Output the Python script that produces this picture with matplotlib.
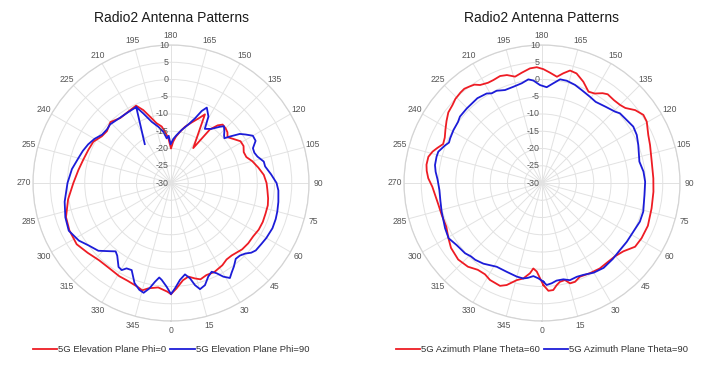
import numpy as np
import matplotlib.pyplot as plt
import matplotlib.transforms as mtransforms

plt.rcParams['font.family'] = ['Liberation Sans', 'DejaVu Sans']

# angles in degrees (0 at bottom, counter-clockwise), gain in dB
r_ticks = [-30, -25, -20, -15, -10, -5, 0, 5, 10]
theta_ticks = list(range(0, 360, 15))

# --- elevation plane, Phi=0 (red)
elev_phi0_ang = [0, 3, 7, 10.5, 14, 17, 21, 26, 32, 36, 40, 44, 47, 52, 57, 62, 67, 72,
                 77, 81, 86, 90, 95, 100, 105, 109, 113, 117, 121, 125, 129, 132, 135,
                 138.5, 141, 144, 147.5, 153.7, 157, 161, 166, 170, 174, 177, 180,
                 183.4, 186.7, 189.4, 193.5, 197.6, 200.8, 204.3, 211, 218, 224.8, 231,
                 236, 242, 248, 255, 262, 270, 279, 288, 295, 303, 310, 317, 324, 331,
                 336, 342, 345, 348, 353, 358, 360]
elev_phi0_db = [2.2, 0.6, -1.6, -2.4, -1.5, -0.8, -1.4, -1.3, -1.9, -2.6, -2.6, -2.2, -1.8,
                -1.6, -1.6, -1.2, -1.1, -1.2, -1.2, -1.5, -2.0, -2.3, -3.0, -4.3, -5.6,
                -6.9, -7.1, -6.4, -6.5, -7.8, -8.9, -8.0, -7.6, -7.4, -8.5, -10.8, -18,
                -7.8, -9.7, -11.4, -13.2, -14.9, -16.5, -18, -20, -17, -15, -13.4, -12.2,
                -9.8, -7.4, -5.4, -5.9, -6.1, -5.1, -6.1, -5.8, -4.5, -4.2, -3.7, -2.9,
                -1.7, 0.2, 2.0, 2.5, 2.6, 1.5, 0.6, 0.5, 0.9, 1.0, 1.6, 2.2, 1.2, 0.5,
                1.5, 2.2]

# --- elevation plane, Phi=90 (blue); trace starts at the 205 deg lobe and ends in its null
elev_phi90_ang = [-155.4, -149, -142, -134, -130, -125, -120, -115, -110, -105, -98, -90,
                  -80, -72, -65, -58, -53, -47, -42, -39, -36.5, -32, -29.5, -27.5, -24.3,
                  -20, -16.5, -14, -11.6, -9.2, -7.1, -5.5, -2.4, 0, 2.2, 5.3, 8.7, 11.3,
                  13.2, 15.3, 18.4, 21.7, 24.6, 26.8, 29.2, 31.8, 34, 37, 40.5, 43.5, 46.5,
                  49, 51.5, 56, 60, 66, 71, 75, 80, 86, 90, 95, 100, 103, 107, 110, 113,
                  116.5, 120, 123, 125.5, 128, 130, 132, 134, 137, 139, 143.5, 148, 150.6,
                  154.6, 156.9, 159.6, 163.5, 168.6, 173.3, 177, 180.5, 182.8, 185.5,
                  188.5, 192.7, 197.5, 201.7, 204.6, 214]
elev_phi90_db = [-5.8, -6.0, -6.0, -5.5, -5.8, -5.6, -4.4, -3.5, -2.8, -2.2, -1.0, 0.0,
                 1.3, 2.2, 2.7, 1.5, 0.0, -1.2, -3.4, -4.5, -3.8, -1.3, -1.0, -2.1, -2.3,
                 0.9, 2.3, 2.8, 1.2, -1.0, -2.4, -1.8, 0.1, 2.2, 0.55, -1.8, -3.2, -1.8,
                 0.4, 1.9, 1.2, -0.8, -1.7, -0.7, 1.1, 2.4, 1.4, 0.3, -1.1, -1.0, -0.3,
                 0.8, 1.4, 1.6, 1.9, 2.2, 2.1, 1.9, 1.6, 1.2, 0.6, -0.9, -2.3, -2.4, -3.8,
                 -4.3, -4.2, -2.6, -2.6, -4.2, -5.5, -8.0, -9.8, -9.3, -8.5, -7.5, -8.4,
                 -10.5, -11.5, -7.9, -5.8, -7.3, -10.0, -12.3, -14.3, -16.0, -17.2,
                 -18.8, -16.3, -17.0, -15.0, -13.3, -11.4, -8.3, -5.8, -16.4]

# --- azimuth plane, Theta=60 (red)
azim_t60_ang = [0.8, 3.4, 6, 8.2, 10.3, 13.3, 15.6, 18.5, 22, 28, 34, 40, 45, 50, 55.6, 61,
                68, 77, 85.5, 92.4, 101, 109.4, 114.3, 120.4, 123.9, 128, 132, 135, 139,
                143.5, 146, 149.5, 153, 157.8, 162.5, 166, 169, 172, 176, 179.3, 182.6,
                186, 190.4, 194.2, 198, 201.4, 205.3, 208.3, 212.3, 214.5, 217, 219.5, 222,
                225.8, 229, 233, 237, 241, 245, 248.5, 251.5, 254, 257, 261, 264, 267.6,
                272, 281.5, 287.7, 294.6, 300.6, 305.5, 312.4, 318.5, 323.5, 328, 331.8,
                337.8, 340.9, 345.4, 348.9, 352.4, 354.2, 356.6, 358.8, 360.8]
azim_t60_db = [-0.4, 1.3, 1.2, -0.1, -0.9, -1.1, 0.2, 0.2, -0.7, -0.4, -0.1, -0.2, 0.0, 0.8,
               2.7, 3.0, 3.1, 2.6, 2.4, 2.3, 2.4, 3.2, 3.8, 5.2, 5.4, 4.3, 2.5, 2.0, 1.8,
               2.0, 1.4, 0.1, -0.3, 1.7, 3.3, 3.6, 2.4, 1.1, 2.1, 3.0, 3.6, 3.4, 2.5, 1.8,
               2.9, 3.3, 3.0, 3.0, 3.6, 4.6, 5.0, 5.4, 5.3, 5.0, 4.4, 4.0, 3.0, 2.0, 1.1,
               0.8, 2.0, 3.0, 3.8, 3.9, 3.6, 3.0, 1.8, 0.7, 0.5, 0.5, 1.5, 2.4, 2.9, 2.4,
               1.3, 1.2, 1.9, 2.2, 1.3, -0.9, -1.8, -3.6, -5.1, -4.3, -2.4, -0.4]

# --- azimuth plane, Theta=90 (blue)
azim_t90_ang = [0.8, 2.6, 5.5, 8.5, 12.5, 16, 20.3, 24.2, 30, 36, 43, 49.3, 55.3, 62, 68.5,
                74.2, 83.3, 90.7, 96.4, 102.4, 111.5, 116.9, 121.7, 127.9, 131.8, 134.3,
                140, 146.5, 150.9, 156.9, 161.4, 166.4, 170.1, 173.5, 177.2, 181.2, 184.8,
                187.5, 191.5, 196.6, 201.7, 206.2, 209.3, 211.7, 217.3, 225.3, 231, 234,
                239.1, 244.1, 246.5, 249, 253.2, 256, 260.5, 264, 268, 274, 280, 285.9,
                295, 300.6, 306, 312.4, 316, 319, 324, 331.6, 338.3, 344.9, 348.9, 351.5,
                354.7, 357.8, 360.8]
azim_t90_db = [-1.4, -0.4, -0.8, -1.4, -1.4, -0.7, -1.0, -0.8, 0.0, 0.4, 0.1, -0.2, -0.1,
               0.0, 0.5, 0.5, -0.1, -0.1, -0.4, -1.1, 0.0, 0.8, 1.1, 0.5, 0.3, -0.4, -1.2,
               -1.8, -1.4, -0.7, 0.0, 0.5, 0.5, -0.9, -2.2, -1.6, -0.2, 0.3, -0.5, -0.9,
               -1.0, -0.2, -0.2, 0.5, 0.9, 0.7, 0.6, 0.1, -0.1, -0.4, -0.6, 0.2, 1.4, 1.5,
               1.45, 1.0, 0.3, -0.2, -0.1, 0.25, 1.0, 1.45, 0.6, 0.2, -0.4, -0.5, -1.1,
               -2.4, -2.3, -1.9, -1.8, -2.2, -2.9, -2.35, -1.4]

RED = '#ee1c24'
BLUE = '#1c1cd8'


def setup_polar(fig, ax):
    ax.set_theta_zero_location('S')
    ax.set_theta_direction(1)
    ax.set_rlim(-30, 10)
    ax.set_rticks(r_ticks)
    ax.set_yticklabels([])
    ax.set_thetagrids(theta_ticks, labels=[str(t) for t in theta_ticks])
    ax.tick_params(axis='x', colors='#555555', labelsize=6.2, pad=-0.5, length=0)
    ax.tick_params(axis='y', length=0)
    ax.grid(True, color='#e2e2e2', linewidth=0.7)
    ax.spines['polar'].set_color('#d4d4d4')
    ax.spines['polar'].set_linewidth(0.9)
    off = mtransforms.ScaledTranslation(-1.5 / 72, 0, fig.dpi_scale_trans)
    for r in r_ticks:
        ax.text(np.pi, r, str(r), ha='right', va='center', fontsize=6.4,
                color='#555555', transform=ax.transData + off)


def draw_panel(fig, rect, series, title):
    ax = fig.add_axes(rect, projection='polar')
    setup_polar(fig, ax)
    for ang, db, color, label in series:
        ax.plot(np.deg2rad(ang), db, color=color, linewidth=1.3, label=label)
    cx = rect[0] + rect[2] / 2
    fig.text(cx, 1 - 18 / 378, title, ha='center', va='center', fontsize=10,
             color='#1a1a1a')
    ax.legend(loc='center', bbox_to_anchor=(cx, 1 - 350 / 378),
              bbox_transform=fig.transFigure, ncol=2, frameon=False,
              fontsize=6.8, handlelength=2.6, handletextpad=0.1,
              columnspacing=0.4, borderaxespad=0, labelcolor='#333333')
    return ax


fig = plt.figure(figsize=(7.09, 3.78), dpi=100)

W, H = 709, 378
size = 276
draw_panel(fig, [33 / W, 57 / H, size / W, size / H],
           [(elev_phi0_ang, elev_phi0_db, RED, '5G Elevation Plane Phi=0'),
            (elev_phi90_ang, elev_phi90_db, BLUE, '5G Elevation Plane Phi=90')],
           'Radio2 Antenna Patterns')
draw_panel(fig, [404 / W, 57 / H, size / W, size / H],
           [(azim_t60_ang, azim_t60_db, RED, '5G Azimuth Plane Theta=60'),
            (azim_t90_ang, azim_t90_db, BLUE, '5G Azimuth Plane Theta=90')],
           'Radio2 Antenna Patterns')

fig.savefig('out.png', dpi=100)
